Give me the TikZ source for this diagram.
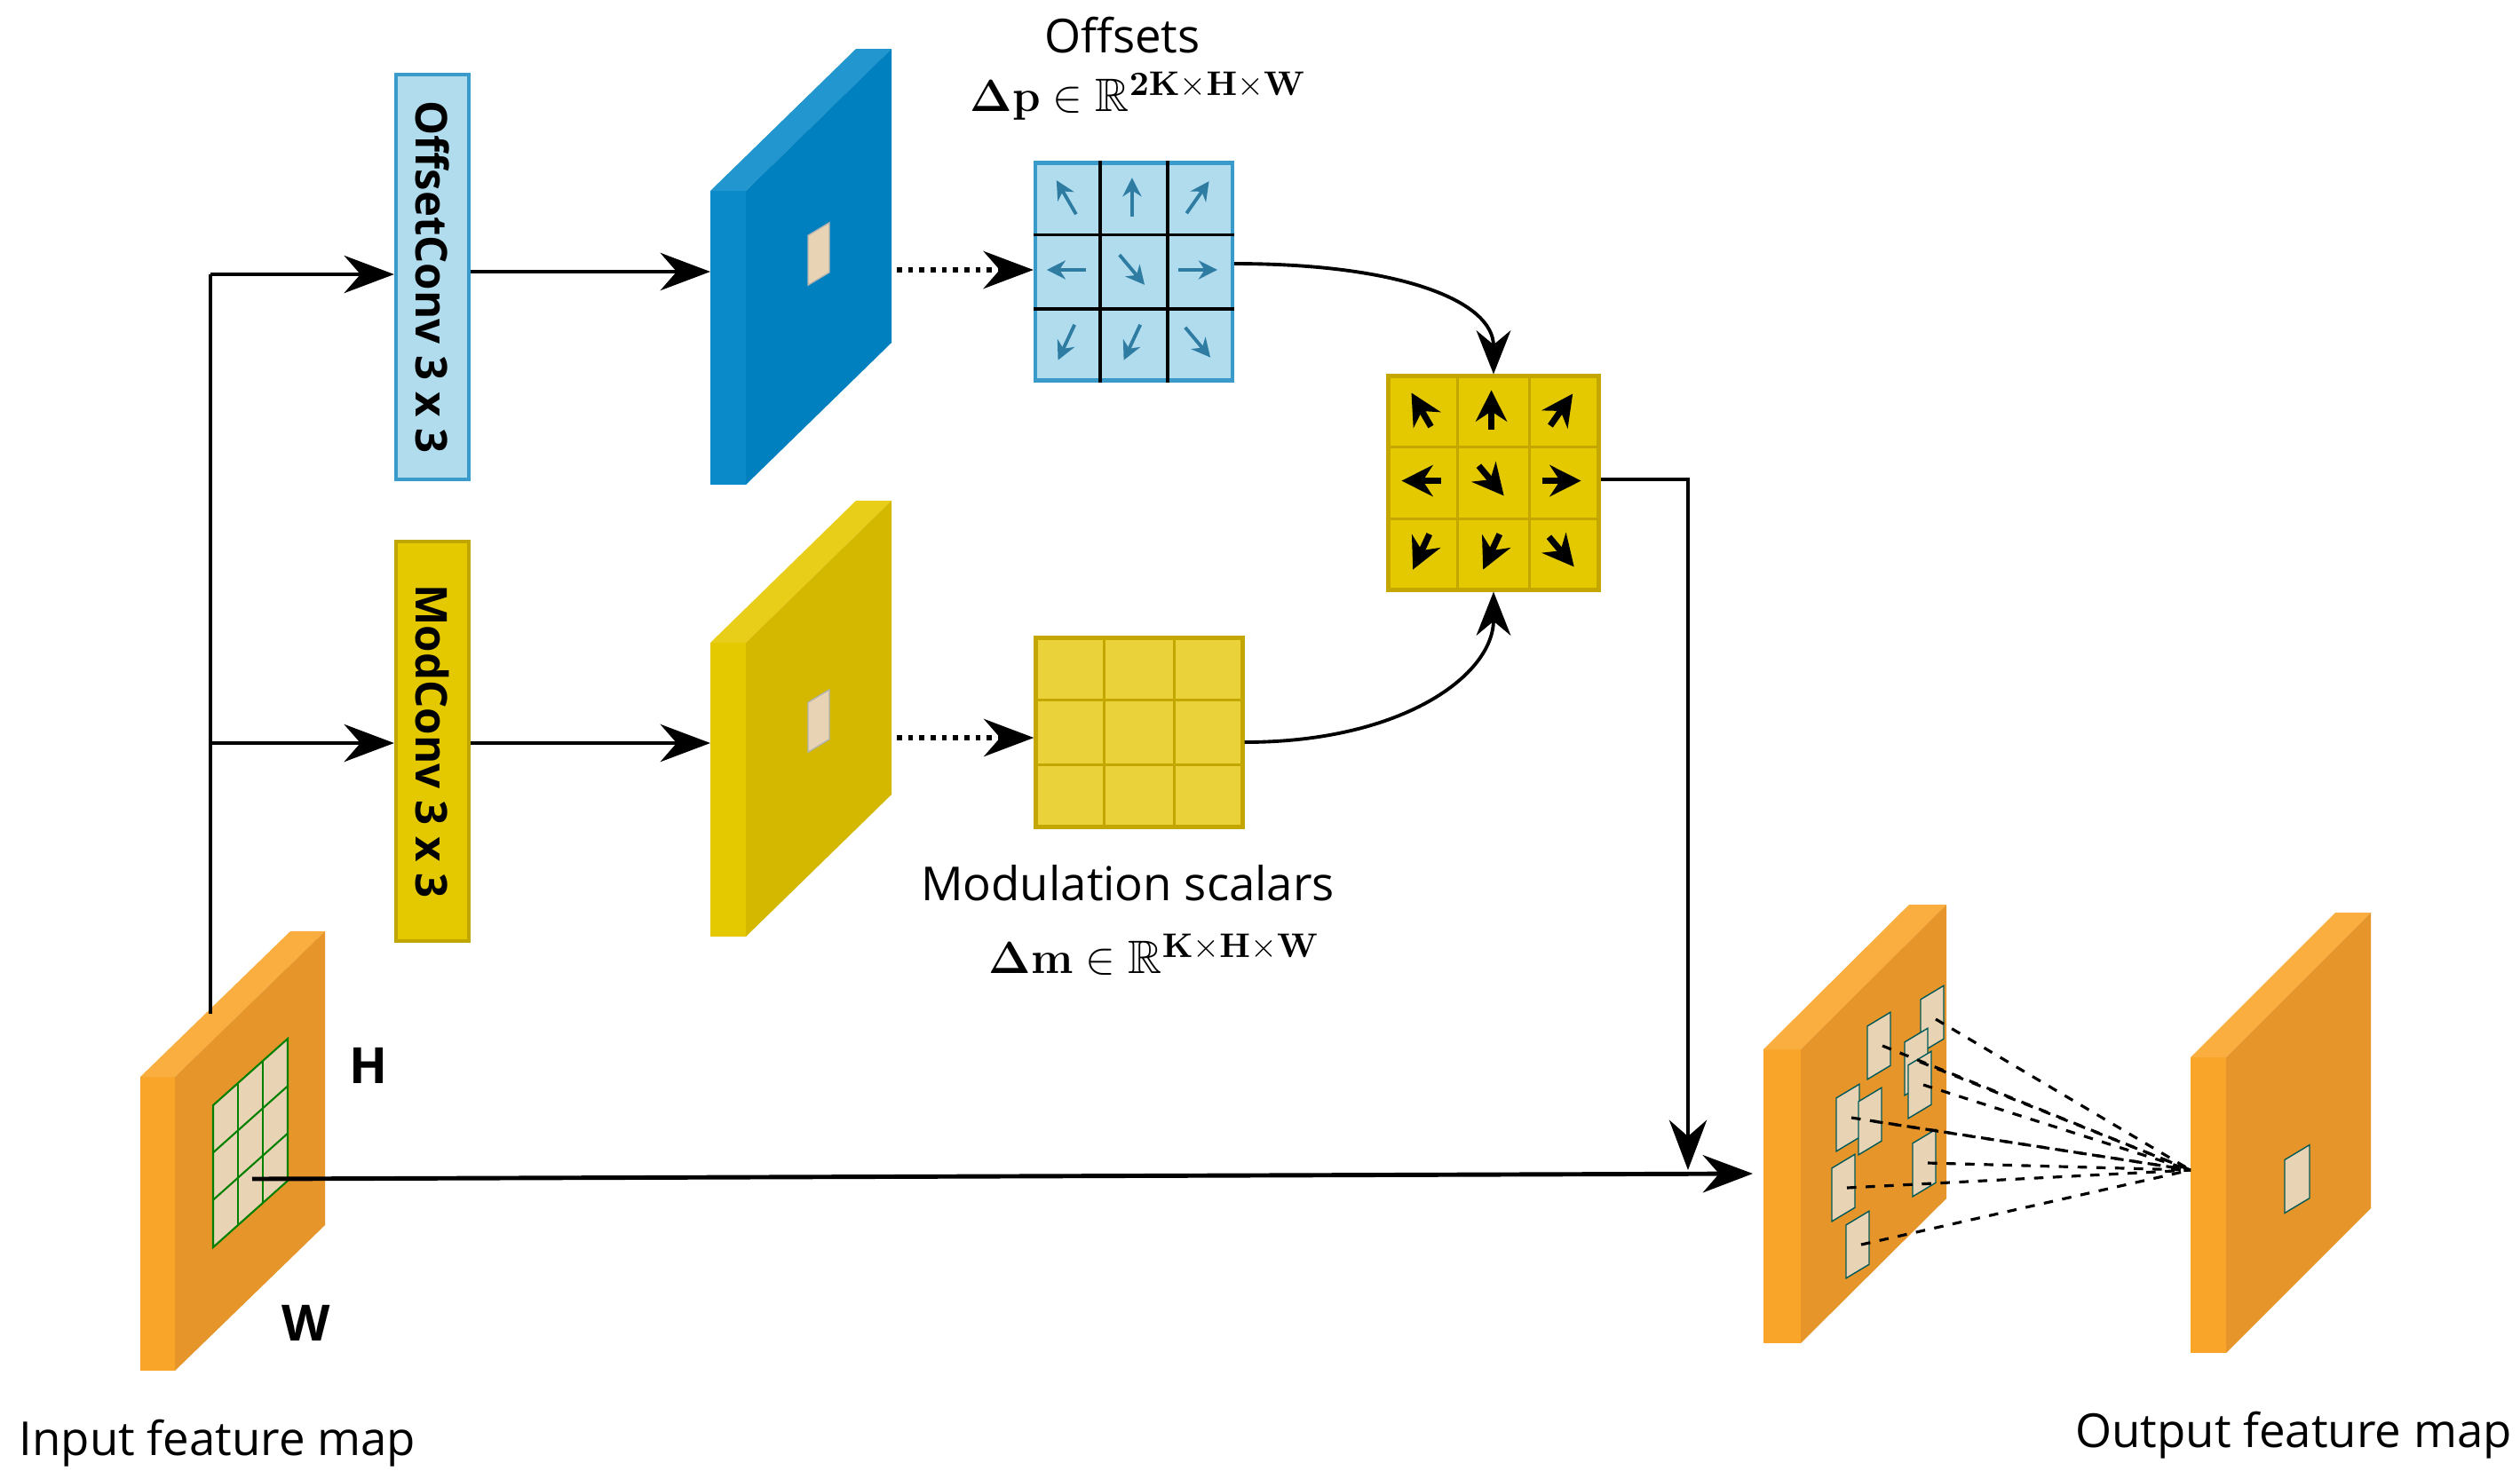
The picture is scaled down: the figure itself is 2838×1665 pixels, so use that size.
\documentclass[tikz,border=0pt]{standalone}
\usepackage{amsmath,amssymb}
\usepackage[no-math]{fontspec}
\setmainfont{Open Sans}
\usetikzlibrary{arrows.meta}
\usetikzlibrary{calc,positioning}

\definecolor{offblue}{HTML}{0080BF}
\definecolor{offblueS}{HTML}{0A8AC8}
\definecolor{lightblue}{HTML}{B0DCEE}
\definecolor{blueedge}{HTML}{3A9BCB}
\definecolor{modyel}{HTML}{D4B800}
\definecolor{modyelS}{HTML}{E5C900}
\definecolor{yelgrid}{HTML}{E9D23A}
\definecolor{yeledge}{HTML}{C4A600}
\definecolor{orgS}{HTML}{F9A52A}
\definecolor{orgF}{HTML}{E5952A}
\definecolor{patchc}{HTML}{E8D4B4}

% feature map slab: strip, face, x1, x2, x3, y front top, y front bottom, y back top
\newcommand{\fmap}[8]{
	\fill[#1] (#3,#6) rectangle (#4,#7);
	\fill[#1!90!white] (#3,#6) -- ({#5-#4+#3},#8) -- (#5,#8) -- (#4,#6) -- cycle;
	\fill[#2] (#4,#6) -- (#5,#8) -- (#5,{#8+#7-#6}) -- (#4,#7) -- cycle;
}
% patch: x, y, edge colour, half width, half height
\newcommand{\patch}[5]{
	\filldraw[fill=patchc, draw=#3!70!black, line width=0.4pt]
	({#1-#4},{#2-#5+#4*0.6}) -- ({#1+#4},{#2-#5-#4*0.6}) -- ({#1+#4},{#2+#5-#4*0.6}) -- ({#1-#4},{#2+#5+#4*0.6}) -- cycle;
}

\begin{document}
\begin{tikzpicture}[x=0.01cm, y=-0.01cm, font=\fontsize{15}{18}\selectfont]
	\tikzstyle{conv}=[draw, line width=1.2pt, minimum width=0.82cm, minimum height=4.55cm, inner sep=0pt]
	\tikzstyle{flow}=[line width=1.4pt, -{Stealth[length=16pt,width=12pt]}]
	\tikzstyle{dotflow}=[line width=1.6pt, dotted, -{Stealth[length=16pt,width=12pt]}]
	\tikzstyle{curved}=[line width=1.1pt, -{Stealth[length=14pt,width=11pt]}]
	\tikzstyle{lab}=[font=\fontsize{14}{17}\selectfont\bfseries]
	\useasboundingbox (0,0) rectangle (2838,1665);

	% conv blocks
	\node[conv, fill=lightblue, draw=blueedge] (offconv) at (487,312) {};
	\node[rotate=-90, lab] at (offconv) {OffsetConv 3 x 3};
	\node[conv, fill=modyelS, draw=modyel!90!black, minimum height=4.5cm] (modconv) at (487,835) {};
	\node[rotate=-90, lab] at (modconv) {ModConv 3 x 3};

	% feature maps
	\fmap{offblueS}{offblue}{800}{840}{1004}{215}{546}{55}
	\patch{922}{286}{white}{12}{28}
	\fmap{modyelS}{modyel}{800}{840}{1004}{724}{1055}{564}
	\patch{922}{812}{white}{12}{28}
	\fmap{orgS}{orgF}{158}{197}{366}{1213}{1544}{1049}
	\fmap{orgS}{orgF}{1986}{2028}{2192}{1182}{1513}{1019}
	\fmap{orgS}{orgF}{2467}{2507}{2670}{1191}{1524}{1028}
	\patch{2587}{1328}{teal}{14}{30}
	\coordinate (bluein) at (800,306);
	\coordinate (blueout) at (1010,304);
	\coordinate (yelin) at (800,837);
	\coordinate (yelout) at (1010,831);

	% input kernel
	\filldraw[fill=patchc, draw=green!50!black, line width=0.6pt] (240,1245) -- (324,1170) -- (324,1330) -- (240,1405) -- cycle;
	\foreach \f in {0.3333,0.6667} {
		\draw[green!50!black, line width=0.6pt] ($(240,1245)!\f!(324,1170)$) -- ($(240,1405)!\f!(324,1330)$);
		\draw[green!50!black, line width=0.6pt] ($(240,1245)!\f!(240,1405)$) -- ($(324,1170)!\f!(324,1330)$);
	}
	\coordinate (kernel) at (284,1328);
	\coordinate (split) at (237,1142);
	\node[lab, font=\fontsize{16}{18}\selectfont\bfseries] (hlab) at (415,1200) {H};
	\node[lab, font=\fontsize{16}{18}\selectfont\bfseries] (wlab) at (345,1490) {W};

	% sampled patches
	\coordinate (target) at (2467,1318);
	\foreach \px/\py in {2180/1148, 2120/1178, 2162/1196, 2166/1222, 2085/1259, 2110/1263, 2171/1310, 2080/1338, 2096/1402} {
		\patch{\px-4}{\py}{teal}{13}{30}
	}
	\foreach \px/\py in {2180/1148, 2120/1178, 2162/1196, 2166/1222, 2085/1259, 2110/1263, 2171/1310, 2080/1338, 2096/1402} {
		\draw[dashed, line width=0.9pt] (\px,\py) -- (target);
	}

	% offset grid
	\node[draw=blueedge, fill=lightblue, line width=1.2pt, minimum width=2.22cm, minimum height=2.45cm, inner sep=0pt] (offgrid) at (1277,306) {};
	\foreach \f in {0.3333,0.6667} {
		\draw[line width=1.1pt] ($(offgrid.north west)!\f!(offgrid.north east)$) -- ($(offgrid.south west)!\f!(offgrid.south east)$);
		\draw[line width=1.1pt] ($(offgrid.north west)!\f!(offgrid.south west)$) -- ($(offgrid.north east)!\f!(offgrid.south east)$);
	}
	\foreach \a [count=\k from 0] in {120,90,55,180,-50,0,-115,-115,-50} {
		\pgfmathsetmacro{\ci}{mod(\k,3)}
		\pgfmathsetmacro{\cj}{int(\k/3)}
		\coordinate (oc) at ($(offgrid.north west)+({(\ci+0.5)*0.74cm},{-(\cj+0.5)*0.817cm})$);
		\draw[blueedge!80!black, line width=1.1pt, -{Stealth[length=6pt,width=6pt]}] ($(oc)+(\a:-0.22cm)$) -- ($(oc)+(\a:0.22cm)$);
	}
	\node (offtxt) at (1264,40) {Offsets};
	\node (offmath) at (1282,108) {$\boldsymbol{\Delta}\mathbf{p}\in\mathbb{R}^{\mathbf{2K\times H\times W}}$};

	% modulation grid
	\node[draw=yeledge, fill=yelgrid, line width=1.2pt, minimum width=2.33cm, minimum height=2.13cm, inner sep=0pt] (modgrid) at (1283,825) {};
	\foreach \f in {0.3333,0.6667} {
		\draw[yeledge, line width=0.8pt] ($(modgrid.north west)!\f!(modgrid.north east)$) -- ($(modgrid.south west)!\f!(modgrid.south east)$);
		\draw[yeledge, line width=0.8pt] ($(modgrid.north west)!\f!(modgrid.south west)$) -- ($(modgrid.north east)!\f!(modgrid.south east)$);
	}
	\node (modtxt) at (1270,995) {Modulation scalars};
	\node (modmath) at (1300,1075) {$\boldsymbol{\Delta}\mathbf{m}\in\mathbb{R}^{\mathbf{K\times H\times W}}$};

	% combined grid
	\node[draw=yeledge, fill=modyelS, line width=1.4pt, minimum width=2.37cm, minimum height=2.4cm, inner sep=0pt] (combgrid) at (1682,544) {};
	\foreach \f in {0.3333,0.6667} {
		\draw[yeledge, line width=0.8pt] ($(combgrid.north west)!\f!(combgrid.north east)$) -- ($(combgrid.south west)!\f!(combgrid.south east)$);
		\draw[yeledge, line width=0.8pt] ($(combgrid.north west)!\f!(combgrid.south west)$) -- ($(combgrid.north east)!\f!(combgrid.south east)$);
	}
	\foreach \a [count=\k from 0] in {120,90,55,180,-50,0,-115,-115,-50} {
		\pgfmathsetmacro{\ci}{mod(\k,3)}
		\pgfmathsetmacro{\cj}{int(\k/3)}
		\coordinate (cc) at ($(combgrid.north west)+({(\ci+0.5)*0.79cm},{-(\cj+0.5)*0.8cm})$);
		\draw[black, line width=2pt, -{Stealth[length=10pt,width=10pt]}] ($(cc)+(\a:-0.22cm)$) -- ($(cc)+(\a:0.22cm)$);
	}

	% connectors
	\draw[line width=1.4pt] (split) -- (237,309);
	\draw[flow] (237,309) -- (offconv.west |- 0,309);
	\draw[flow] (237,837) -- (modconv.west |- 0,837);
	\draw[flow] (offconv.east |- bluein) -- (bluein);
	\draw[flow] (modconv.east |- yelin) -- (yelin);
	\draw[dotflow] (blueout) -- (offgrid.west |- blueout);
	\draw[dotflow] (yelout) -- (modgrid.west |- yelout);
	\draw[curved] (offgrid.east |- 0,297) .. controls (1580,297) and (1682,340) .. (combgrid.north);
	\draw[curved] (modgrid.east |- 0,836) .. controls (1580,836) and (1682,760) .. (combgrid.south);
	\draw[flow] (combgrid.east |- 0,540) -- (1901,540) -- (1901,1318);
	\draw[flow] (kernel) -- (1974,1322);

	\node (inlab) at (245,1626) {Input feature map};
	\node (outlab) at (2583,1617) {Output feature map};
\end{tikzpicture}
\end{document}
